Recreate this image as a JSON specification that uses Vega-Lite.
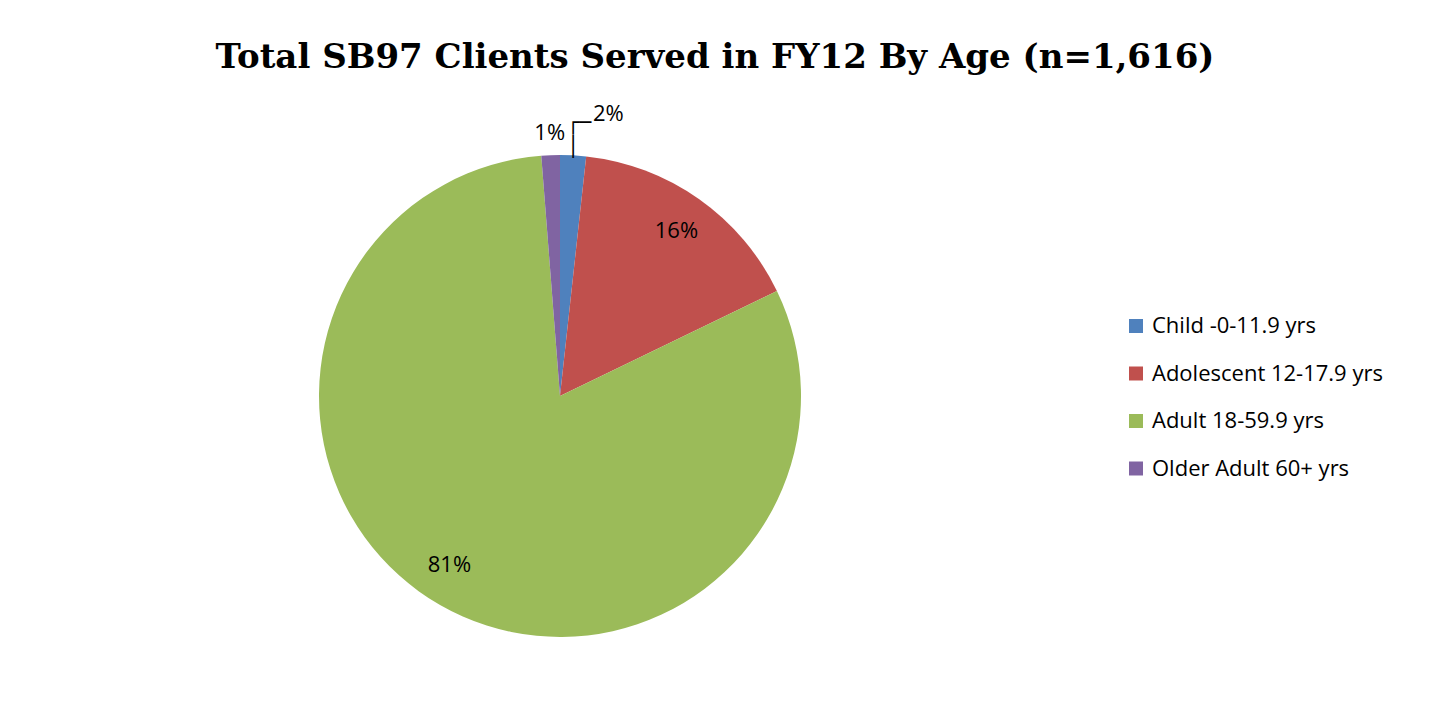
{
  "$schema": "https://vega.github.io/schema/vega-lite/v6.json",
  "width": 1104,
  "height": 614,
  "autosize": {"type": "none"},
  "padding": {"left": 8, "top": 89, "right": 318, "bottom": 0},
  "background": "#ffffff",
  "config": {"view": {"stroke": null}},
  "title": {
    "text": "Total SB97 Clients Served in FY12 By Age (n=1,616)",
    "font": "DejaVu Serif",
    "fontWeight": "bold",
    "fontSize": 34,
    "color": "#000000",
    "anchor": "middle",
    "dx": 155,
    "offset": 14
  },
  "data": {
    "values": [
      {"age": "Child -0-11.9 yrs", "count": 28, "label": "2%"},
      {"age": "Adolescent 12-17.9 yrs", "count": 260, "label": "16%"},
      {"age": "Adult 18-59.9 yrs", "count": 1308, "label": "81%"},
      {"age": "Older Adult 60+ yrs", "count": 20, "label": "1%"}
    ]
  },
  "transform": [{"window": [{"op": "row_number", "as": "idx"}]}],
  "encoding": {
    "theta": {"field": "count", "type": "quantitative", "stack": true},
    "order": {"field": "idx", "type": "quantitative"}
  },
  "layer": [
    {
      "mark": {"type": "arc", "outerRadius": 241},
      "encoding": {
        "color": {
          "field": "age",
          "type": "nominal",
          "sort": null,
          "scale": {
            "domain": ["Child -0-11.9 yrs", "Adolescent 12-17.9 yrs", "Adult 18-59.9 yrs", "Older Adult 60+ yrs"],
            "range": ["#4F81BD", "#C0504D", "#9BBB59", "#8064A2"]
          },
          "legend": {
            "title": null,
            "orient": "none",
            "legendX": 1117,
            "legendY": 226,
            "padding": 0,
            "symbolType": "square",
            "symbolSize": 196,
            "symbolStrokeWidth": 0,
            "symbolOpacity": 1,
            "labelFont": "Open Sans",
            "labelFontSize": 22,
            "labelColor": "#000000",
            "labelOffset": 5,
            "labelLimit": 400,
            "rowPadding": 25.5
          }
        }
      }
    },
    {
      "mark": {"type": "text", "radius": 202, "font": "Open Sans", "fontSize": 22, "color": "#000000"},
      "encoding": {
        "text": {
          "condition": {"test": "datum.age === 'Adolescent 12-17.9 yrs'", "field": "label"},
          "value": ""
        }
      }
    },
    {
      "mark": {"type": "text", "radius": 202, "dx": -10, "dy": -6, "font": "Open Sans", "fontSize": 22, "color": "#000000"},
      "encoding": {
        "text": {
          "condition": {"test": "datum.age === 'Adult 18-59.9 yrs'", "field": "label"},
          "value": ""
        }
      }
    },
    {
      "mark": {"type": "text", "radius": 283, "dx": 33, "dy": 1, "font": "Open Sans", "fontSize": 22, "color": "#000000"},
      "encoding": {
        "text": {
          "condition": {"test": "datum.age === 'Child -0-11.9 yrs'", "field": "label"},
          "value": ""
        }
      }
    },
    {
      "mark": {"type": "text", "radius": 265, "dy": 2, "font": "Open Sans", "fontSize": 22, "color": "#000000"},
      "encoding": {
        "text": {
          "condition": {"test": "datum.age === 'Older Adult 60+ yrs'", "field": "label"},
          "value": ""
        }
      }
    },
    {
      "mark": {"type": "text", "radius": 241, "align": "left", "baseline": "bottom", "dx": -6, "dy": -22, "font": "DejaVu Sans Mono", "fontSize": 20, "lineHeight": 23.3, "color": "#000000"},
      "encoding": {
        "text": {
          "condition": {"test": "datum.age === 'Child -0-11.9 yrs'", "value": ["┌─", "│"]},
          "value": ""
        }
      }
    }
  ]
}
